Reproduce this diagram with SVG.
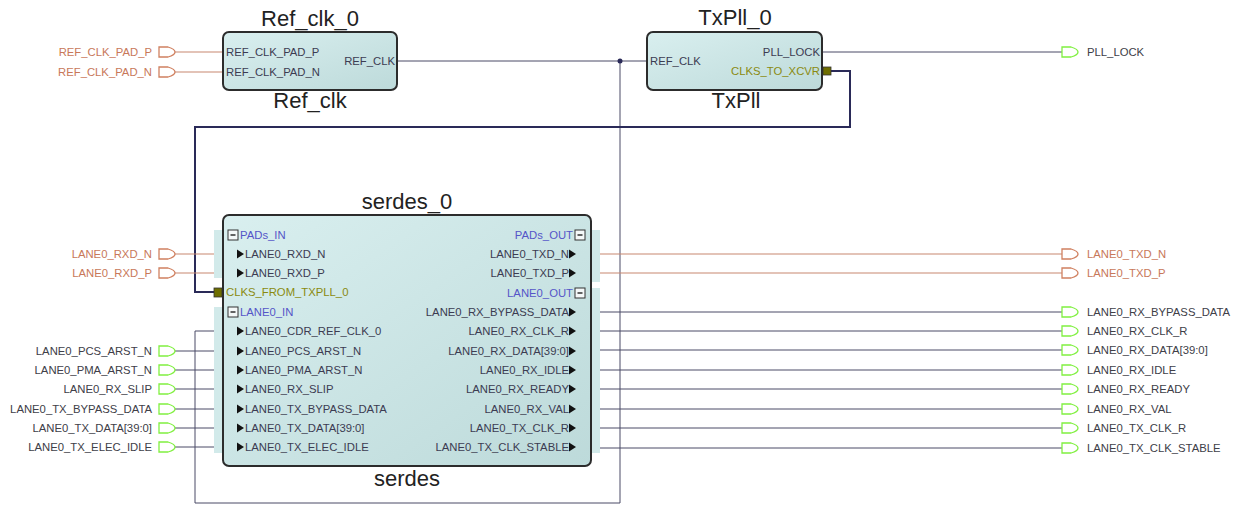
<svg xmlns="http://www.w3.org/2000/svg" width="1239" height="506" viewBox="0 0 1239 506">
<defs>
<linearGradient id="blkfill" x1="0" y1="0" x2="1" y2="1">
<stop offset="0" stop-color="#d9efef"/>
<stop offset="1" stop-color="#bddada"/>
</linearGradient>
<path id="pin" d="M0,-5 H9 Q16,-3 16,0 Q16,3 9,5 H0 Z"/>
<path id="tri" d="M0,-4.5 L7,0 L0,4.5 Z"/>
<g id="minus"><rect x="0" y="-5" width="10" height="10" fill="#f4f8f8" stroke="#333" stroke-width="1"/><path d="M2.5,0 H7.5" stroke="#222" stroke-width="1.4"/></g>
</defs>
<style>
.t{font-family:"Liberation Sans",Arial,sans-serif;font-size:11.3px;fill:#3c3c52}
.e{text-anchor:end}
.o{fill:#c8785a}
.g{fill:#404048}
.grp{fill:#5555c8}
.ol{fill:#8a8a10}
.ti{font-family:"Liberation Sans",Arial,sans-serif;font-size:22px;fill:#222;text-anchor:middle}
.blk{fill:url(#blkfill);stroke:#2c2c2c;stroke-width:2}
.band{fill:#d2eaea}
.pg{fill:#fff;stroke:#80f040;stroke-width:1.3}
.po{fill:#fff;stroke:#d08060;stroke-width:1.3}
.wo{stroke:#c88870;stroke-width:1.2;fill:none}
.wd{stroke:#4a4a66;stroke-width:1;fill:none}
.wt{stroke:#2a2a58;stroke-width:2;fill:none}
.tri{fill:#111}
</style>
<rect width="1239" height="506" fill="#fff"/>

<g id="connectors">
<path class="wo" d="M175,52 H223"/>
<path class="wo" d="M175,72 H223"/>
<path class="wd" d="M397,61 H647"/>
<path class="wd" d="M620,61 V503 H195 V331 H223"/>
<circle cx="620" cy="61" r="2.5" fill="#2a2a58"/>
<path class="wd" d="M822,52 H1062"/>
<path class="wt" d="M831,71 H850 V127 H195 V292 H214"/>
<path class="wo" d="M175,254 H223"/>
<path class="wo" d="M175,273 H223"/>
<path class="wd" d="M175,351 H223"/>
<path class="wd" d="M175,370 H223"/>
<path class="wd" d="M175,389 H223"/>
<path class="wd" d="M175,409 H223"/>
<path class="wd" d="M175,428 H223"/>
<path class="wd" d="M175,447 H223"/>
<path class="wo" d="M591,254 H1062"/>
<path class="wo" d="M591,273 H1062"/>
<path class="wd" d="M591,312 H1062"/>
<path class="wd" d="M591,331 H1062"/>
<path class="wd" d="M591,350 H1062"/>
<path class="wd" d="M591,370 H1062"/>
<path class="wd" d="M591,389 H1062"/>
<path class="wd" d="M591,409 H1062"/>
<path class="wd" d="M591,428 H1062"/>
<path class="wd" d="M591,448 H1062"/>
</g>

<g id="ref_clk_0">
<text class="ti" x="310" y="26">Ref_clk_0</text>
<rect class="blk" x="223" y="32" width="174" height="58" rx="6"/>
<text class="t" x="226" y="56">REF_CLK_PAD_P</text>
<text class="t" x="226" y="76">REF_CLK_PAD_N</text>
<text class="t e" x="395" y="65">REF_CLK</text>
<text class="ti" x="310" y="108">Ref_clk</text>
</g>

<g id="txpll_0">
<text class="ti" x="735" y="25">TxPll_0</text>
<rect class="blk" x="647" y="32" width="175" height="58" rx="6"/>
<text class="t" x="650" y="65">REF_CLK</text>
<text class="t e" x="820" y="56">PLL_LOCK</text>
<text class="t e ol" x="820" y="75">CLKS_TO_XCVR</text>
<rect x="823" y="67" width="8" height="8" fill="#6e6e00" stroke="#333" stroke-width="0.8"/>
<text class="ti" x="736" y="108">TxPll</text>
</g>

<g id="serdes_0">
<text class="ti" x="407" y="209">serdes_0</text>
<rect class="band" x="214" y="230" width="14" height="48"/>
<rect class="band" x="214" y="307" width="14" height="146"/>
<rect class="band" x="586" y="230" width="14" height="52"/>
<rect class="band" x="586" y="288" width="14" height="165"/>
<rect class="blk" x="223" y="215" width="368" height="251" rx="6"/>
<use href="#minus" x="228" y="235"/>
<text class="t grp" x="240" y="239">PADs_IN</text>
<use class="tri" href="#tri" x="237" y="254"/><text class="t" x="245" y="258">LANE0_RXD_N</text>
<use class="tri" href="#tri" x="237" y="273"/><text class="t" x="245" y="277">LANE0_RXD_P</text>
<rect x="214" y="288" width="8" height="9" fill="#6e6e00" stroke="#333" stroke-width="0.8"/>
<text class="t ol" x="226" y="296">CLKS_FROM_TXPLL_0</text>
<use href="#minus" x="228" y="312"/>
<text class="t grp" x="240" y="316">LANE0_IN</text>
<use class="tri" href="#tri" x="237" y="331"/><text class="t" x="245" y="335">LANE0_CDR_REF_CLK_0</text>
<use class="tri" href="#tri" x="237" y="351"/><text class="t" x="245" y="355">LANE0_PCS_ARST_N</text>
<use class="tri" href="#tri" x="237" y="370"/><text class="t" x="245" y="374">LANE0_PMA_ARST_N</text>
<use class="tri" href="#tri" x="237" y="389"/><text class="t" x="245" y="393">LANE0_RX_SLIP</text>
<use class="tri" href="#tri" x="237" y="409"/><text class="t" x="245" y="413">LANE0_TX_BYPASS_DATA</text>
<use class="tri" href="#tri" x="237" y="428"/><text class="t" x="245" y="432">LANE0_TX_DATA[39:0]</text>
<use class="tri" href="#tri" x="237" y="447"/><text class="t" x="245" y="451">LANE0_TX_ELEC_IDLE</text>
<text class="t e grp" x="573" y="239">PADs_OUT</text>
<use href="#minus" x="575" y="235"/>
<text class="t e" x="569" y="258">LANE0_TXD_N</text><use class="tri" href="#tri" x="569" y="254"/>
<text class="t e" x="569" y="277">LANE0_TXD_P</text><use class="tri" href="#tri" x="569" y="273"/>
<text class="t e grp" x="573" y="297">LANE0_OUT</text>
<use href="#minus" x="575" y="293"/>
<text class="t e" x="569" y="316">LANE0_RX_BYPASS_DATA</text><use class="tri" href="#tri" x="569" y="312"/>
<text class="t e" x="569" y="335">LANE0_RX_CLK_R</text><use class="tri" href="#tri" x="569" y="331"/>
<text class="t e" x="569" y="355">LANE0_RX_DATA[39:0]</text><use class="tri" href="#tri" x="569" y="351"/>
<text class="t e" x="569" y="374">LANE0_RX_IDLE</text><use class="tri" href="#tri" x="569" y="370"/>
<text class="t e" x="569" y="393">LANE0_RX_READY</text><use class="tri" href="#tri" x="569" y="389"/>
<text class="t e" x="569" y="413">LANE0_RX_VAL</text><use class="tri" href="#tri" x="569" y="409"/>
<text class="t e" x="569" y="432">LANE0_TX_CLK_R</text><use class="tri" href="#tri" x="569" y="428"/>
<text class="t e" x="569" y="451">LANE0_TX_CLK_STABLE</text><use class="tri" href="#tri" x="569" y="447"/>
<text class="ti" x="407" y="486">serdes</text>
</g>

<g id="port_REF_CLK_PAD_P"><use class="po" href="#pin" x="159" y="52"/><text class="t e o" x="152" y="56">REF_CLK_PAD_P</text></g>
<g id="port_REF_CLK_PAD_N"><use class="po" href="#pin" x="159" y="72"/><text class="t e o" x="152" y="76">REF_CLK_PAD_N</text></g>
<g id="port_LANE0_RXD_N"><use class="po" href="#pin" x="159" y="254"/><text class="t e o" x="152" y="258">LANE0_RXD_N</text></g>
<g id="port_LANE0_RXD_P"><use class="po" href="#pin" x="159" y="273"/><text class="t e o" x="152" y="277">LANE0_RXD_P</text></g>
<g id="port_LANE0_PCS_ARST_N"><use class="pg" href="#pin" x="159" y="351"/><text class="t e g" x="152" y="355">LANE0_PCS_ARST_N</text></g>
<g id="port_LANE0_PMA_ARST_N"><use class="pg" href="#pin" x="159" y="370"/><text class="t e g" x="152" y="374">LANE0_PMA_ARST_N</text></g>
<g id="port_LANE0_RX_SLIP"><use class="pg" href="#pin" x="159" y="389"/><text class="t e g" x="152" y="393">LANE0_RX_SLIP</text></g>
<g id="port_LANE0_TX_BYPASS_DATA"><use class="pg" href="#pin" x="159" y="409"/><text class="t e g" x="152" y="413">LANE0_TX_BYPASS_DATA</text></g>
<g id="port_LANE0_TX_DATA"><use class="pg" href="#pin" x="159" y="428"/><text class="t e g" x="152" y="432">LANE0_TX_DATA[39:0]</text></g>
<g id="port_LANE0_TX_ELEC_IDLE"><use class="pg" href="#pin" x="159" y="447"/><text class="t e g" x="152" y="451">LANE0_TX_ELEC_IDLE</text></g>

<g id="port_PLL_LOCK"><use class="pg" href="#pin" x="1062" y="52"/><text class="t g" x="1087" y="56">PLL_LOCK</text></g>
<g id="port_LANE0_TXD_N"><use class="po" href="#pin" x="1062" y="254"/><text class="t o" x="1087" y="258">LANE0_TXD_N</text></g>
<g id="port_LANE0_TXD_P"><use class="po" href="#pin" x="1062" y="273"/><text class="t o" x="1087" y="277">LANE0_TXD_P</text></g>
<g id="port_LANE0_RX_BYPASS_DATA"><use class="pg" href="#pin" x="1062" y="312"/><text class="t g" x="1087" y="316">LANE0_RX_BYPASS_DATA</text></g>
<g id="port_LANE0_RX_CLK_R"><use class="pg" href="#pin" x="1062" y="331"/><text class="t g" x="1087" y="335">LANE0_RX_CLK_R</text></g>
<g id="port_LANE0_RX_DATA"><use class="pg" href="#pin" x="1062" y="350"/><text class="t g" x="1087" y="354">LANE0_RX_DATA[39:0]</text></g>
<g id="port_LANE0_RX_IDLE"><use class="pg" href="#pin" x="1062" y="370"/><text class="t g" x="1087" y="374">LANE0_RX_IDLE</text></g>
<g id="port_LANE0_RX_READY"><use class="pg" href="#pin" x="1062" y="389"/><text class="t g" x="1087" y="393">LANE0_RX_READY</text></g>
<g id="port_LANE0_RX_VAL"><use class="pg" href="#pin" x="1062" y="409"/><text class="t g" x="1087" y="413">LANE0_RX_VAL</text></g>
<g id="port_LANE0_TX_CLK_R"><use class="pg" href="#pin" x="1062" y="428"/><text class="t g" x="1087" y="432">LANE0_TX_CLK_R</text></g>
<g id="port_LANE0_TX_CLK_STABLE"><use class="pg" href="#pin" x="1062" y="448"/><text class="t g" x="1087" y="452">LANE0_TX_CLK_STABLE</text></g>
</svg>
